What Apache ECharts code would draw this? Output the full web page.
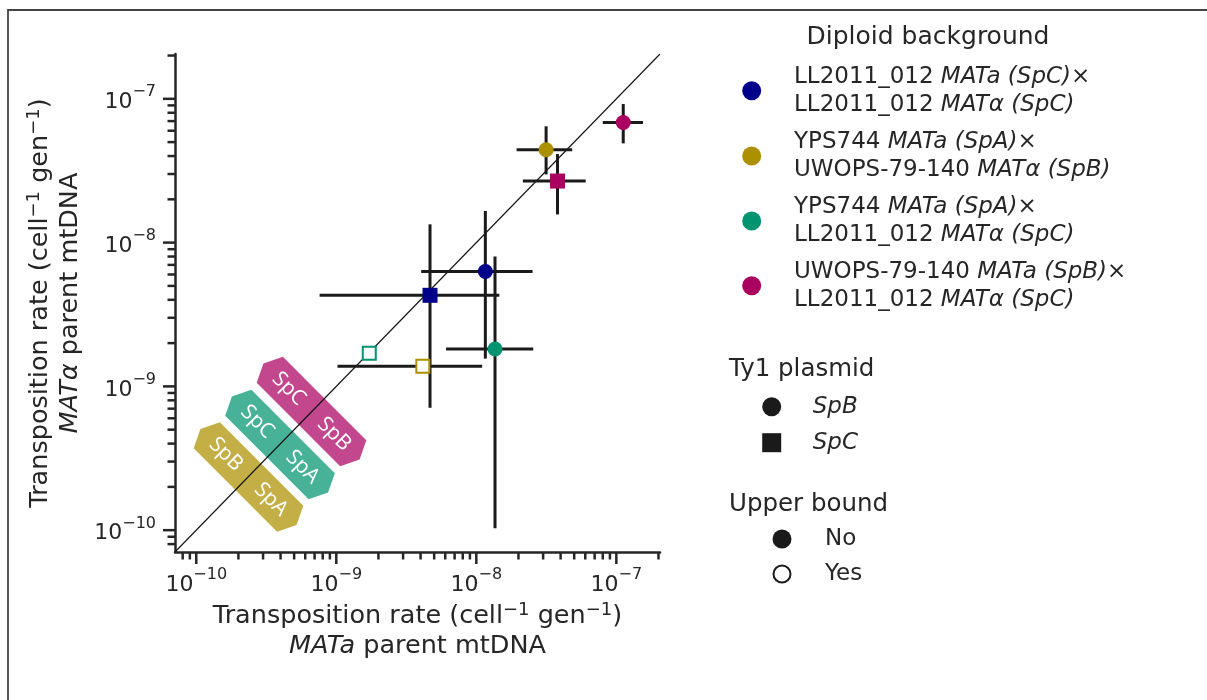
<!DOCTYPE html>
<html><head><meta charset="utf-8">
<script src="https://cdn.jsdelivr.net/npm/echarts@6/dist/echarts.min.js"></script>
<style>html,body{margin:0;padding:0;background:#fff}#c{width:1207px;height:700px}</style>
</head><body><div id="c"></div>
<script>
// ---------------- data ----------------
const AXIS_RANGE = [7.05e-11, 2.05e-7];
const MAJOR_TICKS = [1e-10, 1e-9, 1e-8, 1e-7];
const TICK_DECADES = [1e-11, 1e-10, 1e-9, 1e-8, 1e-7];
const MINOR_MULT = [2, 3, 4, 5, 6, 7, 8, 9];

const BACKGROUND_LABELS = [
  '{r|LL2011_012 }{i|MATa (SpC)}{r|×}\n{r|LL2011_012 }{i|MATα (SpC)}',
  '{r|YPS744 }{i|MATa (SpA)}{r|×}\n{r|UWOPS-79-140 }{i|MATα (SpB)}',
  '{r|YPS744 }{i|MATa (SpA)}{r|×}\n{r|LL2011_012 }{i|MATα (SpC)}',
  '{r|UWOPS-79-140 }{i|MATa (SpB)}{r|×}\n{r|LL2011_012 }{i|MATα (SpC)}'
];
const BACKGROUND_COLORS = ['#00008b', '#ad9000', '#009470', '#aa0060'];
const PLASMIDS = ['SpB', 'SpC'];
const UPPER_BOUND_LABELS = ['No', 'Yes'];

// points
const PT_BG      = [0, 0, 1, 1, 2, 2, 3, 3];
const PT_PLASMID = ['SpB', 'SpC', 'SpB', 'SpC', 'SpB', 'SpC', 'SpB', 'SpC'];
const PT_UPPER   = [false, false, false, true, false, true, false, false];
const PT_X   = [1.16e-8, 4.67e-9, 3.15e-8, 4.15e-9, 1.36e-8, 1.72e-9, 1.12e-7, 3.80e-8];
const PT_Y   = [6.3e-9, 4.3e-9, 4.42e-8, 1.38e-9, 1.82e-9, 1.70e-9, 6.85e-8, 2.68e-8];
const PT_XLO = [4.04e-9, 7.6e-10, 1.94e-8, 1.02e-9, 6.08e-9, null, 8.0e-8, 2.15e-8];
const PT_XHI = [2.52e-8, 1.46e-8, 4.84e-8, 1.10e-8, 2.55e-8, null, 1.55e-7, 6.04e-8];
const PT_YLO = [1.56e-9, 7.1e-10, 2.98e-8, null, 1.03e-10, null, 4.9e-8, 1.57e-8];
const PT_YHI = [1.66e-8, 1.34e-8, 6.44e-8, null, 8.0e-9, null, 9.2e-8, 4.13e-8];

const BADGES = [
  { labels: ['SpC', 'SpB'], color: 3 },
  { labels: ['SpC', 'SpA'], color: 2 },
  { labels: ['SpB', 'SpA'], color: 1 }
];

// ---------------- build ----------------
const INK = '#262626';
const FONT = 'DejaVu Sans';

function inRange(v) { return v >= AXIS_RANGE[0] && v <= AXIS_RANGE[1]; }
const tickVals = [];
TICK_DECADES.forEach(d => {
  if (inRange(d)) tickVals.push([d, 1]);
  MINOR_MULT.forEach(m => { const v = d * m; if (inRange(v)) tickVals.push([v, 0]); });
});
const xTickData = tickVals.map(t => [t[0], AXIS_RANGE[0], t[1]]);
const yTickData = tickVals.map(t => [AXIS_RANGE[0], t[0], t[1]]);

const tickRich = {
  b: { fontSize: 22, fontFamily: FONT, color: INK, lineHeight: 29, verticalAlign: 'bottom' },
  s: { fontSize: 16, fontFamily: FONT, color: INK, lineHeight: 17, verticalAlign: 'top' }
};
function tickFmt(v) {
  const e = Math.log10(v); const r = Math.round(e);
  if (Math.abs(e - r) > 1e-6) return '';
  return '{b|10}{s|−' + (-r) + '}';
}
const nameRich = {
  t: { fontSize: 25.5, fontFamily: FONT, color: INK, lineHeight: 30 },
  i: { fontSize: 25.5, fontFamily: FONT, color: INK, lineHeight: 30, fontStyle: 'italic' },
  p: { fontSize: 18, fontFamily: FONT, color: INK, lineHeight: 18, verticalAlign: 'top' }
};

function axisCommon(name, gap) {
  return {
    type: 'log', logBase: 10, min: AXIS_RANGE[0], max: AXIS_RANGE[1],
    axisLine: { show: true, onZero: false, lineStyle: { color: INK, width: 2.5 } },
    axisTick: { show: false }, splitLine: { show: false }, minorTick: { show: false },
    axisLabel: { formatter: tickFmt, rich: tickRich, showMinLabel: true, showMaxLabel: true },
    name: name, nameLocation: 'middle', nameGap: gap,
    nameTextStyle: { rich: nameRich, fontSize: 25.5, fontFamily: FONT, color: INK, align: 'center' }
  };
}
const xAxis = axisCommon('{t|Transposition rate (cell}{p|−1}{t| gen}{p|−1}{t|)}\n{i|MATa}{t| parent mtDNA}', 48);
xAxis.axisLabel.margin = 15;
const yAxis = axisCommon('{t|Transposition rate (cell}{p|−1}{t| gen}{p|−1}{t|)}\n{i|MATα}{t| parent mtDNA}', 90);
yAxis.axisLabel.margin = 19;

// scatter series per background
const scatterSeries = BACKGROUND_COLORS.map((c, bi) => ({
  type: 'scatter', name: 'bg' + bi, z: 4,
  data: PT_X.map((x, i) => i).filter(i => PT_BG[i] === bi).map(i => {
    const sq = PT_PLASMID[i] === 'SpC';
    return {
      value: [PT_X[i], PT_Y[i]],
      symbol: sq ? 'rect' : 'circle',
      symbolSize: PT_UPPER[i] ? 13 : 15,
      itemStyle: PT_UPPER[i] ? { color: '#ffffff', borderColor: c, borderWidth: 2, opacity: 1 } : { color: c, borderWidth: 0, opacity: 1 }
    };
  }),
  itemStyle: { opacity: 1 },
  emphasis: { disabled: true }, silent: true
}));

const errSeries = {
  type: 'custom', z: 3, silent: true, clip: false,
  data: PT_X.map((x, i) => [x, PT_Y[i]]),
  renderItem: (params, api) => {
    const i = params.dataIndex; const ch = [];
    const st = { stroke: '#1a1a1a', lineWidth: 3 };
    if (PT_XLO[i] != null) {
      const a = api.coord([PT_XLO[i], PT_Y[i]]), b = api.coord([PT_XHI[i], PT_Y[i]]);
      ch.push({ type: 'line', shape: { x1: a[0], y1: a[1], x2: b[0], y2: b[1] }, style: st });
    }
    if (PT_YLO[i] != null) {
      const a = api.coord([PT_X[i], PT_YLO[i]]), b = api.coord([PT_X[i], PT_YHI[i]]);
      ch.push({ type: 'line', shape: { x1: a[0], y1: a[1], x2: b[0], y2: b[1] }, style: st });
    }
    return { type: 'group', children: ch };
  }
};

function tickSeries(data, horizontal) {
  return {
    type: 'custom', z: 6, silent: true, clip: false, data: data,
    renderItem: (params, api) => {
      const p = api.coord([api.value(0), api.value(1)]);
      const len = api.value(2) ? 12 : 7.5;
      const shape = horizontal ? { x1: p[0], y1: p[1], x2: p[0], y2: p[1] + len }
                               : { x1: p[0] - len, y1: p[1], x2: p[0], y2: p[1] };
      return { type: 'line', shape: shape, style: { stroke: INK, lineWidth: 2.5 } };
    }
  };
}

const diagSeries = {
  type: 'line', z: 2, silent: true, symbol: 'none', animation: false,
  data: [[AXIS_RANGE[0], AXIS_RANGE[0]], [AXIS_RANGE[1], AXIS_RANGE[1]]],
  lineStyle: { color: '#111', width: 1.1 }
};

// ---------------- graphics (legend, badges, frame) ----------------
const legRich = {
  r: { fontSize: 23, fontFamily: FONT, fill: INK, color: INK, lineHeight: 28 },
  i: { fontSize: 23, fontFamily: FONT, fill: INK, color: INK, lineHeight: 28, fontStyle: 'italic' }
};
function txt(text, x, y, size, align, extra) {
  return Object.assign({
    type: 'text', z: 20, silent: true,
    style: { text: text, x: x, y: y, font: size + 'px "' + FONT + '"', fill: INK,
             align: align, textAlign: align, verticalAlign: 'middle', textVerticalAlign: 'middle' }
  }, extra || {});
}
const graphics = [];
graphics.push({ type: 'rect', z: 0, silent: true, shape: { x: 8, y: 10, width: 1300, height: 800 },
  style: { fill: 'none', stroke: '#444', lineWidth: 1.8 } });

graphics.push(txt('Diploid background', 928, 37, 25, 'center'));
const BG_ROW_Y = [90.7, 156, 221, 285.7];
BACKGROUND_LABELS.forEach((lab, k) => {
  graphics.push({ type: 'circle', z: 20, silent: true, shape: { cx: 751.7, cy: BG_ROW_Y[k], r: 9.5 },
    style: { fill: BACKGROUND_COLORS[k] } });
  graphics.push({ type: 'text', z: 20, silent: true,
    style: { text: lab, rich: legRich, x: 794, y: BG_ROW_Y[k], font: '23px "' + FONT + '"', fill: INK,
             align: 'left', textAlign: 'left', verticalAlign: 'middle', textVerticalAlign: 'middle' } });
});
graphics.push(txt('Ty1 plasmid', 729, 370, 24.5, 'left'));
const PL_Y = [406.7, 442.7];
PLASMIDS.forEach((p, k) => {
  if (k === 0) graphics.push({ type: 'circle', z: 20, silent: true, shape: { cx: 771.7, cy: PL_Y[k], r: 9.5 }, style: { fill: '#1a1a1a' } });
  else graphics.push({ type: 'rect', z: 20, silent: true, shape: { x: 762.2, y: PL_Y[k] - 9.5, width: 19, height: 19 }, style: { fill: '#1a1a1a' } });
  graphics.push({ type: 'text', z: 20, silent: true,
    style: { text: p, x: 812.7, y: PL_Y[k], font: 'italic 23px "' + FONT + '"', fill: INK,
             align: 'left', textAlign: 'left', verticalAlign: 'middle', textVerticalAlign: 'middle' } });
});
graphics.push(txt('Upper bound', 729, 505, 24.5, 'left'));
const UB_Y = [539, 574];
UPPER_BOUND_LABELS.forEach((l, k) => {
  graphics.push({ type: 'circle', z: 20, silent: true, shape: { cx: 782, cy: UB_Y[k], r: k ? 8.5 : 9.5 },
    style: k ? { fill: '#fff', stroke: '#1a1a1a', lineWidth: 2 } : { fill: '#1a1a1a' } });
  graphics.push(txt(l, 825, UB_Y[k], 23, 'left'));
});

// badges (decorative annotation along the diagonal)
const BADGE_POS = [[311.5, 411.5], [280, 444.5], [248.5, 477]];
const L = 136, W = 37, TIP = 9;
BADGES.forEach((b, k) => {
  graphics.push({
    type: 'group', x: BADGE_POS[k][0], y: BADGE_POS[k][1], rotation: -Math.PI / 4, z: 0, silent: true,
    children: [
      { type: 'polygon', z: 0, shape: { points: [[-L/2, 0], [-L/2 + TIP, -W/2], [L/2 - TIP, -W/2], [L/2, 0], [L/2 - TIP, W/2], [-L/2 + TIP, W/2]] },
        style: { fill: BACKGROUND_COLORS[b.color], opacity: 0.72 } },
      { type: 'text', z: 1, style: { text: b.labels[0], x: -32, y: 0, font: '21px "Open Sans"', fill: '#fff',
          align: 'center', textAlign: 'center', verticalAlign: 'middle', textVerticalAlign: 'middle' } },
      { type: 'text', z: 1, style: { text: b.labels[1], x: 32, y: 0, font: '21px "Open Sans"', fill: '#fff',
          align: 'center', textAlign: 'center', verticalAlign: 'middle', textVerticalAlign: 'middle' } }
    ]
  });
});

const chart = echarts.init(document.getElementById('c'), null, { renderer: 'canvas' });
chart.setOption({
  backgroundColor: '#fff',
  animation: false,
  grid: { left: 175, right: 1207 - 660, top: 54, bottom: 700 - 552, containLabel: false },
  xAxis: xAxis,
  yAxis: yAxis,
  series: [diagSeries, errSeries].concat(scatterSeries).concat([tickSeries(xTickData, true), tickSeries(yTickData, false)]),
  graphic: { elements: graphics }
});
</script></body></html>
